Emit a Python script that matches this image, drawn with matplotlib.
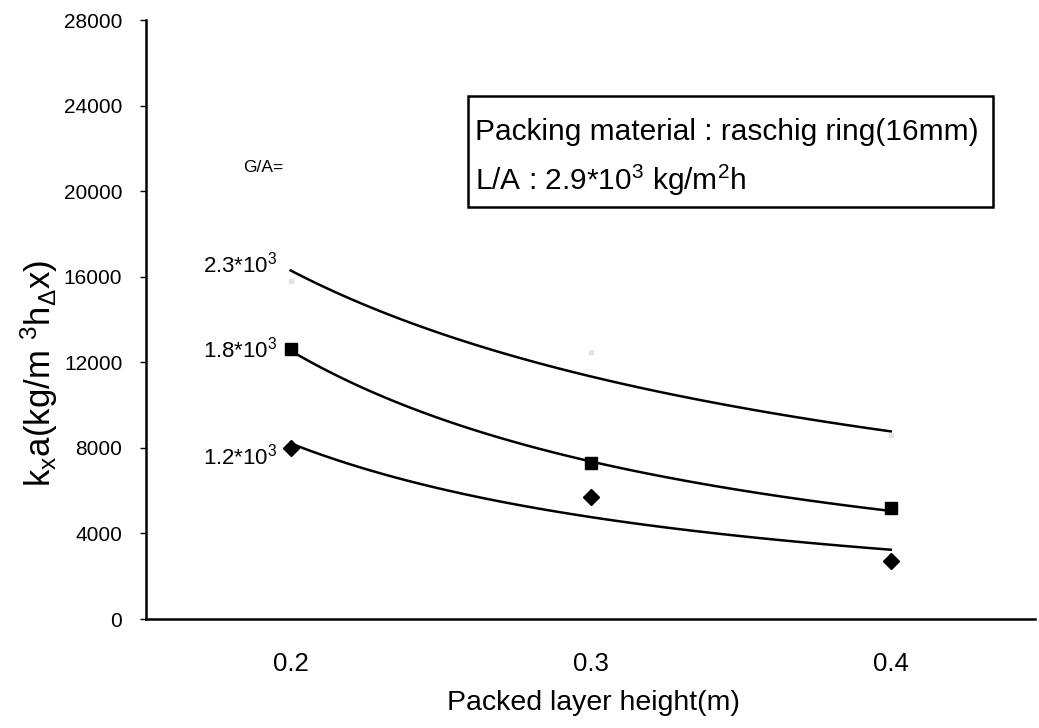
import numpy as np
import matplotlib
matplotlib.use('Agg')
import matplotlib.pyplot as plt
from matplotlib.patches import Rectangle

plt.rcParams['font.family'] = ['Liberation Sans', 'DejaVu Sans']
plt.rcParams['mathtext.fontset'] = 'custom'
plt.rcParams['mathtext.rm'] = 'Liberation Sans'
plt.rcParams['mathtext.it'] = 'Liberation Sans'

# packed layer height (m)
height = [0.2, 0.3, 0.4]

# measured kxa for each gas rate G/A
kxa_23 = [15800, 12500, 8600]
kxa_18 = [12600, 7300, 5200]
kxa_12 = [8000, 5700, 2700]

# trend curve values at each height
trend_23 = [16200, 11500, 8700]
trend_18 = [12450, 7500, 5000]
trend_12 = [8050, 5000, 3150]

series_labels = [r'2.3*10$^3$', r'1.8*10$^3$', r'1.2*10$^3$']
yticks = [0, 4000, 8000, 12000, 16000, 20000, 24000, 28000]

W, H = 1039.0, 728.0


def power_fit(x, y):
    # least squares fit y = a*x^b in log-log space
    b, lna = np.polyfit(np.log(x), np.log(y), 1)
    xs = np.linspace(min(x), max(x), 100)
    return xs, np.exp(lna) * xs ** b


def fpos(px, py):
    # pixel position -> figure fraction
    return px / W, 1 - py / H


fig = plt.figure(figsize=(10.39, 7.28), dpi=100)
ax = fig.add_axes([0.1405, 0.1497, 0.856, 0.8228])

for tr in (trend_23, trend_18, trend_12):
    xs, ys = power_fit(height, tr)
    ax.plot(xs, ys, color='black', lw=1.8)

ax.plot(height, kxa_23, ls='none', marker='s', ms=3, color='#e4e4e4')
ax.plot(height, kxa_18, ls='none', marker='s', ms=8, color='black')
ax.plot(height, kxa_12, ls='none', marker='D', ms=8, color='black')

# series labels on the left of the first points
for lab, py in zip(series_labels, [265, 350, 457]):
    x, y = fpos(240, py)
    fig.text(x, y, lab, fontsize=16, ha='center', va='center')

x, y = fpos(263, 168)
fig.text(x, y, 'G/A=', fontsize=12.5, ha='center', va='center')

# info box
x0, y0 = fpos(468, 207)
fig.patches.append(Rectangle((x0, y0), 525 / W, 111 / H, transform=fig.transFigure,
                             fill=False, ec='black', lw=1.8))
x, y = fpos(475, 132)
fig.text(x, y, 'Packing material : raschig ring(16mm)', fontsize=21.5,
         ha='left', va='center')
x, y = fpos(475, 180)
fig.text(x, y, 'L/A : 2.9*10$^3$ kg/m$^2$h', fontsize=21.5, ha='left', va='center')

ax.set_xlim(0.1518, 0.4482)
ax.set_ylim(0, 28000)
ax.set_xticks(height)
ax.set_xticklabels(['0.2', '0.3', '0.4'])
ax.set_yticks(yticks)
ax.tick_params(axis='x', length=0, labelsize=18.5, pad=24)
ax.tick_params(axis='y', length=4, width=1, labelsize=15, pad=13)

ax.spines['top'].set_visible(False)
ax.spines['right'].set_visible(False)
ax.spines['left'].set_linewidth(1.8)
ax.spines['bottom'].set_linewidth(1.8)

ax.set_xlabel('Packed layer height(m)', fontsize=20.5)
ax.xaxis.set_label_coords(0.503, -0.118)
ax.set_ylabel(r'k$_{\mathrm{x}}$a(kg/m $^3$h$_{\Delta}$x)', fontsize=25)
ax.yaxis.set_label_coords(-0.097, 0.41)

plt.savefig('out.png', dpi=100)
